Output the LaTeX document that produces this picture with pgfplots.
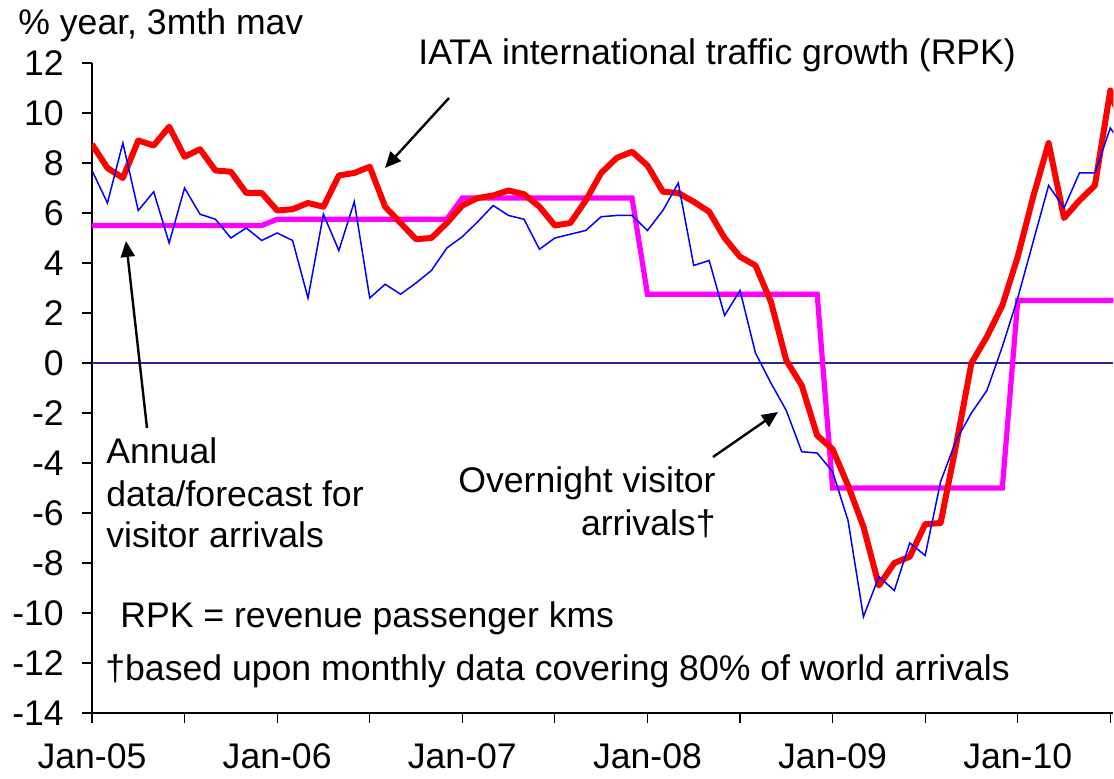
\documentclass[border=0pt]{standalone}
\usepackage{fontspec}
\setmainfont{Liberation Sans}
\usepackage{pgfplots}
\pgfplotsset{compat=1.18}
\usetikzlibrary{arrows.meta}

\definecolor{zeroline}{RGB}{40,40,140}
\definecolor{annual}{RGB}{255,0,255}
\definecolor{rpk}{RGB}{255,0,0}
\definecolor{visitors}{RGB}{0,0,255}

\begin{document}
\fontsize{17.8}{21}\selectfont
\begin{tikzpicture}
\useasboundingbox (0,0) rectangle (557pt,389.5pt);
\begin{axis}[
    at={(46pt,33pt)}, anchor=south west,
    scale only axis,
    width=510.7pt, height=325pt,
    xmin=0, xmax=66.2,
    ymin=-14, ymax=12,
    axis x line=bottom, axis y line=left,
    axis line style={-, line width=0.7pt},
    tick align=outside,
    major tick length=5pt, minor tick length=5pt,
    tick style={black, line width=0.6pt},
    xtick={0,12,24,36,48,60},
    xticklabels={Jan-05,Jan-06,Jan-07,Jan-08,Jan-09,Jan-10},
    minor xtick={6,18,30,42,54,66},
    ytick={-14,-12,...,12},
    /pgf/number format/assume math mode=true,
    ticklabel style={font=\fontsize{17.8}{21}\selectfont},
    yticklabel style={xshift=-3pt},
    xticklabel style={yshift=-4pt},
    clip=true,
]
% zero line
\addplot[zeroline, line width=0.7pt, forget plot] coordinates {(0,0) (66.2,0)};

% annual data / forecast for visitor arrivals
\addplot[annual, line width=2.6pt, line join=miter] coordinates {
(0,5.5) (11,5.5) (12,5.75) (23,5.75) (24,6.6) (35,6.6) (36,2.75) (47,2.75)
(48,-5) (59,-5) (60,2.5) (67,2.5)
};

% IATA international traffic growth (RPK)
\addplot[rpk, line width=3pt, line join=round] coordinates {
(0,8.75) (1,7.8) (2,7.4) (3,8.9) (4,8.7) (5,9.45) (6,8.25) (7,8.55) (8,7.7) (9,7.65)
(10,6.8) (11,6.8) (12,6.1) (13,6.15) (14,6.4) (15,6.25) (16,7.5) (17,7.6) (18,7.85) (19,6.25)
(20,5.6) (21,4.95) (22,5.0) (23,5.6) (24,6.3) (25,6.6) (26,6.7) (27,6.9) (28,6.75) (29,6.25)
(30,5.5) (31,5.6) (32,6.5) (33,7.6) (34,8.2) (35,8.45) (36,7.9) (37,6.85) (38,6.8) (39,6.45)
(40,6.05) (41,5.0) (42,4.25) (43,3.9) (44,2.45) (45,0.1) (46,-0.9) (47,-2.9) (48,-3.45) (49,-4.9)
(50,-6.55) (51,-8.9) (52,-8.0) (53,-7.75) (54,-6.45) (55,-6.4) (56,-3.3) (57,0.0) (58,1.05) (59,2.3)
(60,4.25) (61,6.65) (62,8.8) (63,5.8) (64,6.5) (65,7.1) (66,10.9) (67,9.0)
};

% overnight visitor arrivals
\addplot[visitors, line width=0.75pt] coordinates {
(0,7.7) (1,6.4) (2,8.8) (3,6.1) (4,6.85) (5,4.8) (6,7.0) (7,5.95) (8,5.75) (9,5.0)
(10,5.4) (11,4.9) (12,5.2) (13,4.9) (14,2.6) (15,5.95) (16,4.5) (17,6.45) (18,2.6) (19,3.15)
(20,2.75) (21,3.2) (22,3.7) (23,4.6) (24,5.05) (25,5.65) (26,6.3) (27,5.9) (28,5.75) (29,4.55)
(30,5.0) (31,5.15) (32,5.3) (33,5.85) (34,5.9) (35,5.9) (36,5.3) (37,6.1) (38,7.2) (39,3.9)
(40,4.1) (41,1.9) (42,2.9) (43,0.4) (44,-0.8) (45,-1.9) (46,-3.55) (47,-3.6) (48,-4.35) (49,-6.3)
(50,-10.15) (51,-8.55) (52,-9.1) (53,-7.2) (54,-7.7) (55,-4.75) (56,-3.1) (57,-2.0) (58,-1.1) (59,0.65)
(60,2.6) (61,4.85) (62,7.1) (63,6.2) (64,7.6) (65,7.6) (66,9.4) (67,8.5)
};
\end{axis}

% texts
\node[anchor=base west, inner sep=0] at (9pt,372pt) {\% year, 3mth mav};
\node[anchor=base west, inner sep=0] at (209pt,357pt) {IATA international traffic growth (RPK)};
\node[anchor=base west, inner sep=0] at (53pt,157.5pt) {Annual};
\node[anchor=base west, inner sep=0] at (53pt,136pt) {data/forecast for};
\node[anchor=base west, inner sep=0] at (53pt,115.5pt) {visitor arrivals};
\node[anchor=base east, inner sep=0] at (358pt,143pt) {Overnight visitor};
\node[anchor=base east, inner sep=0] at (358pt,121.5pt) {arrivals†};
\node[anchor=base west, inner sep=0] at (60pt,75.5pt) {RPK = revenue passenger kms};
\node[anchor=base west, inner sep=0] at (52.5pt,49pt) {†based upon monthly data covering 80\% of world arrivals};

% arrows
\draw[line width=1.2pt, -{Triangle[length=8pt,width=7pt]}] (224.5pt,340.5pt) -- (192.5pt,305.5pt);
\draw[line width=1.2pt, -{Triangle[length=8pt,width=7pt]}] (73.5pt,175.5pt) -- (63pt,269pt);
\draw[line width=1.2pt, -{Triangle[length=8pt,width=7pt]}] (356.5pt,161pt) -- (389pt,183.5pt);
\end{tikzpicture}
\end{document}
